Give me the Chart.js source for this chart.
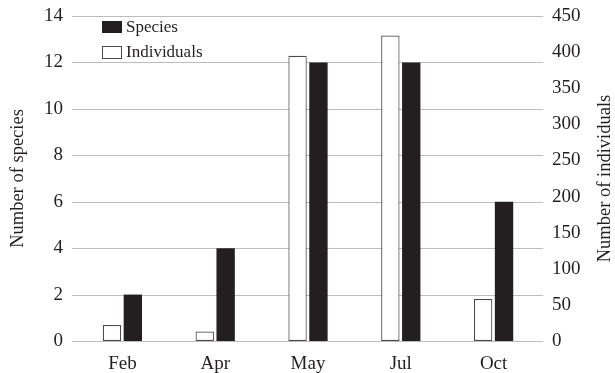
<!DOCTYPE html>
<html>
<head>
<meta charset="utf-8">
<script src="https://cdn.jsdelivr.net/npm/chart.js@4/dist/chart.umd.min.js"></script>
<style>
html,body{margin:0;padding:0;background:#fff;}
#wrap{width:615px;height:373px;}
</style>
</head>
<body>
<div id="wrap"><canvas id="c" width="615" height="373"></canvas></div>
<script>
const categories = ["Feb", "Apr", "May", "Jul", "Oct"];
const individuals = [22, 13, 395, 423, 58];
const species = [2, 4, 12, 12, 6];
const speciesTicks = [0, 2, 4, 6, 8, 10, 12, 14];
const individualsTicks = [0, 50, 100, 150, 200, 250, 300, 350, 400, 450];

const FONT = "'Liberation Serif', 'Times New Roman', serif";
const TXT = "#231f20";

const customGrid = {
  id: 'customGrid',
  beforeDatasetsDraw(chart) {
    const ctx = chart.ctx, a = chart.chartArea, y = chart.scales.y;
    ctx.save();
    ctx.strokeStyle = '#bdbdbd';
    ctx.lineWidth = 1;
    speciesTicks.forEach(v => {
      const py = Math.round(y.getPixelForValue(v)) + 0.5;
      ctx.beginPath();
      ctx.moveTo(a.left - 4, py);
      ctx.lineTo(a.right + 3, py);
      ctx.stroke();
    });
    ctx.restore();
  },
  afterDraw(chart) {
    const ctx = chart.ctx, a = chart.chartArea;
    ctx.save();
    ctx.fillStyle = TXT;
    ctx.font = "18.5px " + FONT;
    ctx.textAlign = 'center';
    ctx.textBaseline = 'middle';
    ctx.translate(605, (a.top + a.bottom) / 2);
    ctx.rotate(-Math.PI / 2);
    ctx.fillText("Number of individuals", 0, 0);
    ctx.restore();
    ctx.save();
    const items = [chart.data.datasets[1], chart.data.datasets[0]];
    const lx = 102, ly = [21, 46];
    ctx.font = "17px " + FONT;
    ctx.textBaseline = 'middle';
    ctx.textAlign = 'left';
    items.forEach((ds, i) => {
      ctx.fillStyle = ds.backgroundColor;
      ctx.fillRect(lx, ly[i], 20, 12);
      if (ds.borderWidth) {
        ctx.strokeStyle = ds.borderColor;
        ctx.lineWidth = 1;
        ctx.strokeRect(lx + 0.5, ly[i] + 0.5, 19, 12);
      }
      ctx.fillStyle = TXT;
      ctx.fillText(ds.label, lx + 24, ly[i] + 6.5);
    });
    ctx.restore();
  }
};

function noPad(s) { s.paddingTop = 0; s.paddingBottom = 0; }

new Chart(document.getElementById('c'), {
  type: 'bar',
  data: {
    labels: categories,
    datasets: [
      {
        label: 'Individuals',
        data: individuals,
        yAxisID: 'y1',
        backgroundColor: '#ffffff',
        borderColor: '#4a4a4a',
        borderWidth: 1.2,
        borderSkipped: false,
        categoryPercentage: 0.45,
        barPercentage: 0.88
      },
      {
        label: 'Species',
        data: species,
        yAxisID: 'y',
        backgroundColor: '#231f20',
        borderWidth: 0,
        categoryPercentage: 0.45,
        barPercentage: 0.88
      }
    ]
  },
  options: {
    responsive: false,
    animation: false,
    devicePixelRatio: 1,
    layout: { padding: { top: 16, bottom: 0, left: 0, right: 0 } },
    plugins: { legend: { display: false }, tooltip: { enabled: false } },
    scales: {
      x: {
        grid: { display: false },
        border: { display: false },
        ticks: { font: { family: FONT, size: 19 }, color: TXT, padding: 4 },
        afterFit(s) { s.height = 32; }
      },
      y: {
        position: 'left',
        min: 0, max: 14,
        afterBuildTicks(s) { s.ticks = speciesTicks.map(v => ({ value: v })); },
        grid: { display: false },
        border: { display: false },
        ticks: { font: { family: FONT, size: 19 }, color: TXT, padding: 5 },
        title: { display: true, text: 'Number of species', font: { family: FONT, size: 18.5 }, color: TXT, padding: { top: 7, bottom: 0 } },
        afterFit(s) { s.width = 76; noPad(s); }
      },
      y1: {
        position: 'right',
        min: 0, max: 450,
        afterBuildTicks(s) { s.ticks = individualsTicks.map(v => ({ value: v })); },
        grid: { display: false },
        border: { display: false },
        ticks: { font: { family: FONT, size: 19 }, color: TXT, padding: 4 },
        title: { display: false },
        afterFit(s) { s.width = 75; noPad(s); }
      }
    }
  },
  plugins: [customGrid]
});
</script>
</body>
</html>
